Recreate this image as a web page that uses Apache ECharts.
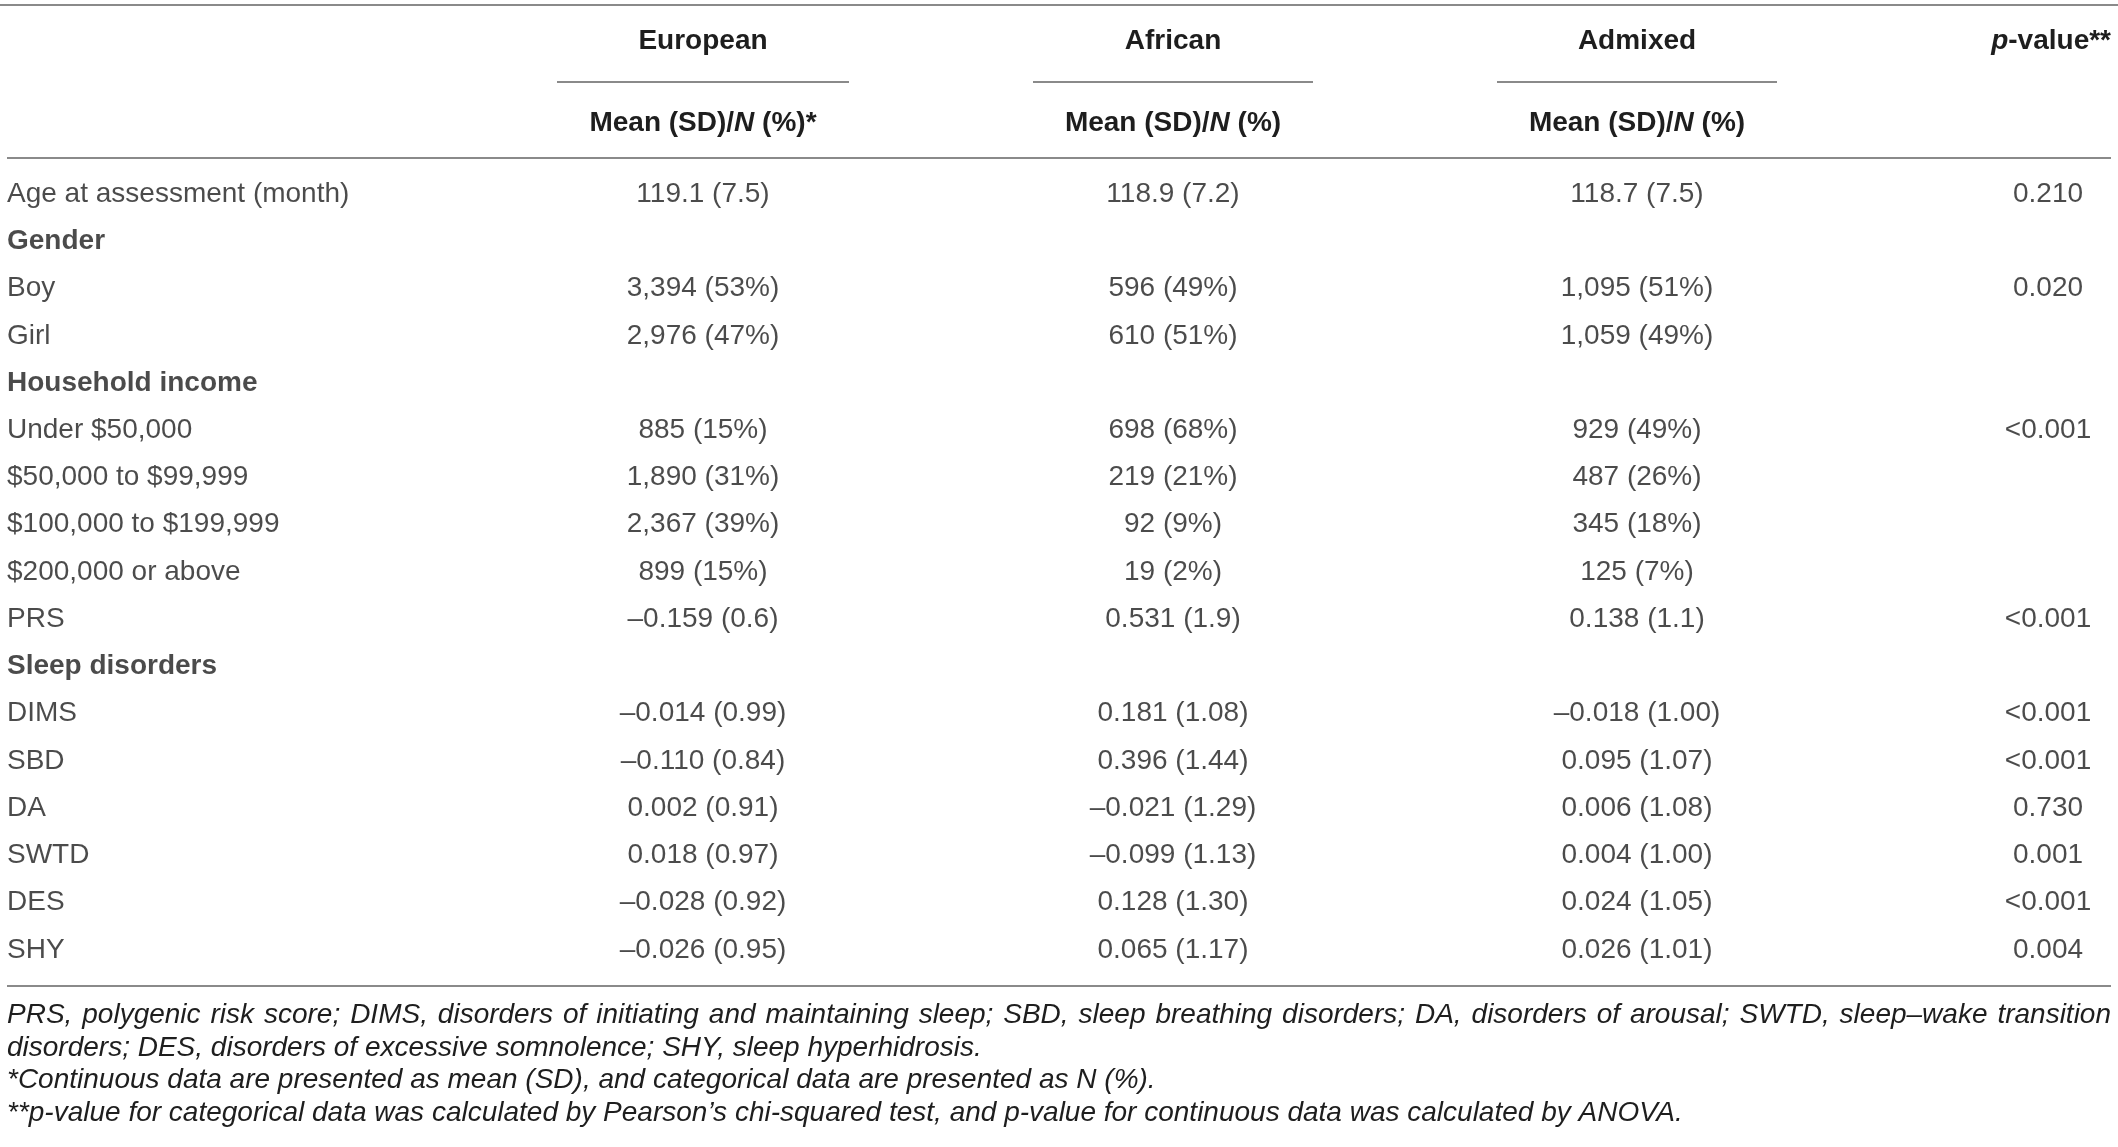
<!DOCTYPE html>
<html>
<head>
<meta charset="utf-8">
<script src="https://cdn.jsdelivr.net/npm/echarts@6/dist/echarts.min.js"></script>
<style>
html,body{margin:0;padding:0;background:#fff;}
#chart{width:2118px;height:1147px;}
</style>
</head>
<body>
<div id="chart"></div>
<script>
// ---- data ----
const rowLabels = ["Age at assessment (month)", "Gender", "Boy", "Girl", "Household income",
  "Under $50,000", "$50,000 to $99,999", "$100,000 to $199,999", "$200,000 or above", "PRS",
  "Sleep disorders", "DIMS", "SBD", "DA", "SWTD", "DES", "SHY"];
const boldRows = ["Gender", "Household income", "Sleep disorders"];
const european = ["119.1 (7.5)", "", "3,394 (53%)", "2,976 (47%)", "", "885 (15%)", "1,890 (31%)",
  "2,367 (39%)", "899 (15%)", "\u20130.159 (0.6)", "", "\u20130.014 (0.99)", "\u20130.110 (0.84)",
  "0.002 (0.91)", "0.018 (0.97)", "\u20130.028 (0.92)", "\u20130.026 (0.95)"];
const african = ["118.9 (7.2)", "", "596 (49%)", "610 (51%)", "", "698 (68%)", "219 (21%)",
  "92 (9%)", "19 (2%)", "0.531 (1.9)", "", "0.181 (1.08)", "0.396 (1.44)", "\u20130.021 (1.29)",
  "\u20130.099 (1.13)", "0.128 (1.30)", "0.065 (1.17)"];
const admixed = ["118.7 (7.5)", "", "1,095 (51%)", "1,059 (49%)", "", "929 (49%)", "487 (26%)",
  "345 (18%)", "125 (7%)", "0.138 (1.1)", "", "\u20130.018 (1.00)", "0.095 (1.07)", "0.006 (1.08)",
  "0.004 (1.00)", "0.024 (1.05)", "0.026 (1.01)"];
const pValues = ["0.210", "", "0.020", "", "", "<0.001", "", "", "", "<0.001", "",
  "<0.001", "<0.001", "0.730", "0.001", "<0.001", "0.004"];
const groupHeaders = ["European", "African", "Admixed"];
const subHeaders = [["Mean (SD)/", "N", " (%)*"], ["Mean (SD)/", "N", " (%)"], ["Mean (SD)/", "N", " (%)"]];
const pHeader = ["p", "-value**"];
const footnotes = [
  "PRS, polygenic risk score; DIMS, disorders of initiating and maintaining sleep; SBD, sleep breathing disorders; DA, disorders of arousal; SWTD, sleep\u2013wake transition",
  "disorders; DES, disorders of excessive somnolence; SHY, sleep hyperhidrosis.",
  "*Continuous data are presented as mean (SD), and categorical data are presented as N (%).",
  "**p-value for categorical data was calculated by Pearson\u2019s chi-squared test, and p-value for continuous data was calculated by ANOVA."
];
const justifiedFootnotes = [true, false, false, false];

// ---- layout / style ----
const FONT = '"Liberation Sans", Arial, Helvetica, sans-serif';
const TXT = '#1e1e1e';
const LINE = '#8a8a8a';
const FS = 28;
const gridTop = 170.5, gridH = 803;
const cols = [
  {left: 7, width: 500},      // row labels
  {left: 558, width: 290},    // European
  {left: 1033, width: 280},   // African
  {left: 1497, width: 280},   // Admixed
  {left: 1990, width: 116}    // p-value
];
const colData = [rowLabels, european, african, admixed, pValues];
const rowIdx = rowLabels.map((_, i) => i);

const grids = cols.map(c => ({left: c.left, width: c.width, top: gridTop, height: gridH}));
const xAxes = cols.map((c, k) => ({
  gridIndex: k, type: 'value', min: 0, max: 1, show: false
}));
const yAxes = cols.map((c, k) => ({
  gridIndex: k, type: 'category', data: rowIdx, inverse: true, show: false,
  boundaryGap: true
}));
const series = colData.map((arr, k) => {
  const data = [];
  arr.forEach((t, i) => {
    if (t === "") return;
    const bold = k === 0 && boldRows.includes(t);
    data.push({
      value: [k === 0 ? 0 : 0.5, i, t],
      label: {fontWeight: bold ? 'bold' : 'normal'}
    });
  });
  return {
    type: 'scatter', xAxisIndex: k, yAxisIndex: k, symbolSize: 0, silent: true,
    data: data,
    label: {
      show: true, position: 'inside', formatter: p => p.value[2],
      fontFamily: FONT, fontSize: FS, color: TXT,
      align: k === 0 ? 'left' : 'center', verticalAlign: 'middle'
    }
  };
});

// header / rules / footnotes as graphic
const graphic = [];
function hline(x1, x2, y) {
  graphic.push({type: 'line', shape: {x1: x1, y1: y, x2: x2, y2: y},
    style: {stroke: LINE, lineWidth: 2}, silent: true});
}
hline(0, 2118, 5);
hline(7, 2111, 158);
hline(7, 2111, 986);
const centers = [703, 1173, 1637];
const underlines = [[557, 849], [1033, 1313], [1497, 1777]];
const richHead = {
  b: {fontFamily: FONT, fontSize: FS, fontWeight: 'bold', fill: TXT, color: TXT},
  bi: {fontFamily: FONT, fontSize: FS, fontWeight: 'bold', fontStyle: 'italic', fill: TXT, color: TXT}
};
groupHeaders.forEach((h, k) => {
  graphic.push({type: 'text', x: centers[k], y: 41, silent: true,
    style: {text: h, fill: TXT, font: 'bold ' + FS + 'px ' + FONT, align: 'center', verticalAlign: 'middle'}});
  hline(underlines[k][0], underlines[k][1], 82);
  const s = subHeaders[k];
  graphic.push({type: 'text', x: centers[k], y: 123, silent: true,
    style: {
      text: '{b|' + s[0] + '}{bi|' + s[1] + '}{b|' + s[2] + '}',
      align: 'center', verticalAlign: 'middle', rich: richHead
    }});
});
graphic.push({type: 'text', x: 2111, y: 41, silent: true,
  style: {
    text: '{bi|' + pHeader[0] + '}{b|' + pHeader[1] + '}',
    align: 'right', verticalAlign: 'middle', rich: richHead
  }});

// footnotes (first line justified to table width)
const footFont = 'italic ' + FS + 'px ' + FONT;
const measureCtx = document.createElement('canvas').getContext('2d');
measureCtx.font = footFont;
const footLeft = 7, footRight = 2111;
const footY = [1015, 1048, 1080, 1113];
footnotes.forEach((f, i) => {
  if (justifiedFootnotes[i]) {
    const words = f.split(' ');
    const widths = words.map(w => measureCtx.measureText(w).width);
    const total = widths.reduce((a, b) => a + b, 0);
    const gap = (footRight - footLeft - total) / (words.length - 1);
    let x = footLeft;
    words.forEach((w, j) => {
      graphic.push({type: 'text', x: x, y: footY[i], silent: true,
        style: {text: w, fill: TXT, font: footFont, align: 'left', verticalAlign: 'middle'}});
      x += widths[j] + gap;
    });
  } else {
    graphic.push({type: 'text', x: footLeft, y: footY[i], silent: true,
      style: {text: f, fill: TXT, font: footFont, align: 'left', verticalAlign: 'middle'}});
  }
});

const chart = echarts.init(document.getElementById('chart'), null, {renderer: 'canvas'});
chart.setOption({
  animation: false,
  backgroundColor: '#ffffff',
  grid: grids,
  xAxis: xAxes,
  yAxis: yAxes,
  series: series,
  graphic: graphic
});
</script>
</body>
</html>
